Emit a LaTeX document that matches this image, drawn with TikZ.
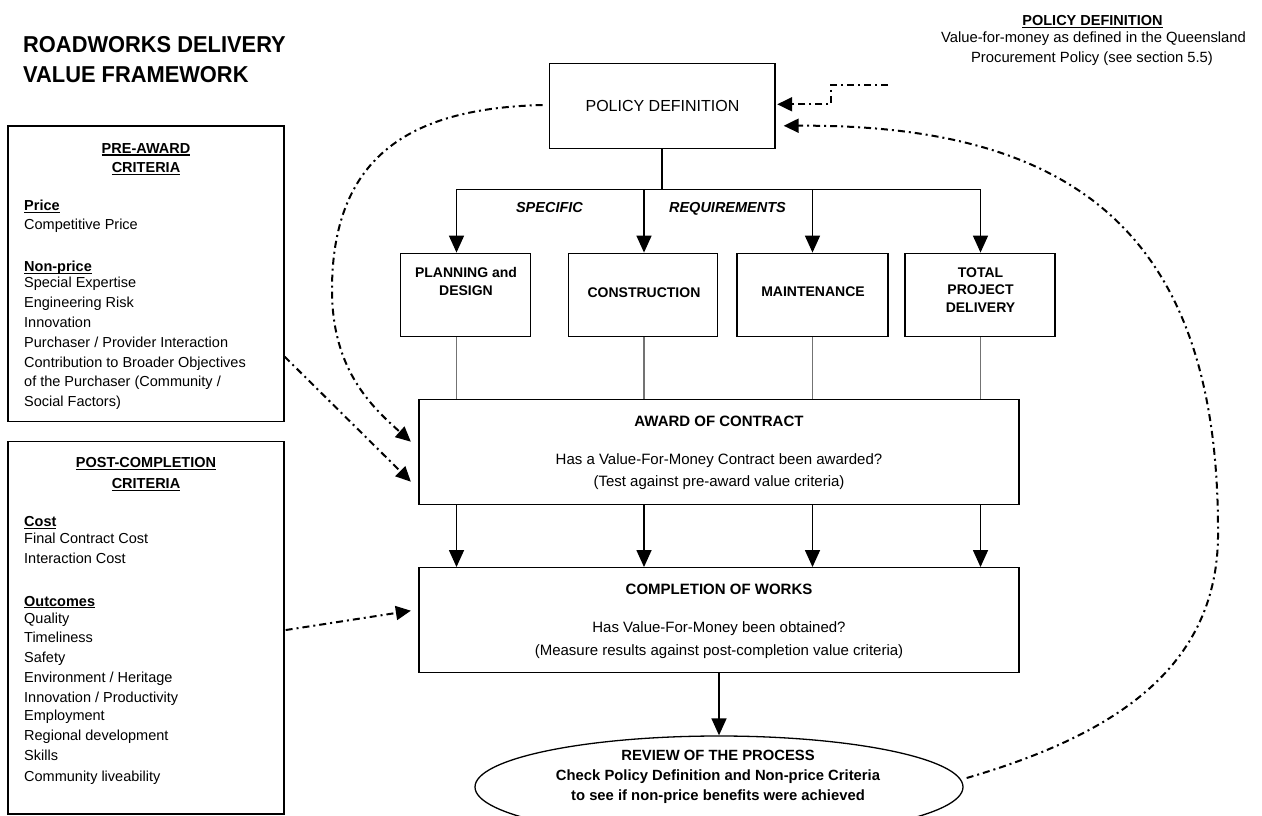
\documentclass[tikz,border=0pt]{standalone}
\usepackage{fontspec}
\setmainfont{Liberation Sans}
\newfontfamily\titlefont[FakeStretch=0.95]{Liberation Sans}
\usetikzlibrary{arrows.meta,shapes.geometric,calc}

% underline drawn just below the baseline, crossing descenders
\newcommand{\ulbox}[1]{\setbox0=\hbox{#1}\rlap{\rule[-2.4pt]{\wd0}{1.2pt}}\box0}
\newcommand{\fs}[1]{\fontsize{#1}{#1}\selectfont}

\begin{document}
\begin{tikzpicture}[x=1pt,y=-1pt,
  txt/.style={inner sep=0pt, anchor=base},
  ltxt/.style={inner sep=0pt, anchor=base west},
  sidetext/.style={ltxt, font=\fs{14.5}},
  sidehead/.style={txt, font=\fs{14.5}\bfseries},
  sidesub/.style={ltxt, font=\fs{14.5}\bfseries},
  boxlabel/.style={txt, font=\fs{14}\bfseries},
  bodyhead/.style={txt, font=\fs{15}\bfseries},
  bodytext/.style={txt, font=\fs{15}},
  reviewtext/.style={txt, font=\fs{14.8}\bfseries},
  reqtext/.style={txt, font=\fs{14.5}\bfseries\itshape},
  boxline/.style={draw=black, line width=1.3pt},
  framebox/.style={boxline, rectangle, inner sep=0pt},
  stem/.style={line width=1.5pt},
  solidarrow/.style={line width=1.5pt, -{Triangle[length=17pt,width=15pt]}},
  link/.style={draw=black!55, line width=1.3pt},
  dashlink/.style={line width=2pt, dash pattern=on 7pt off 4pt on 2pt off 4pt,
                   -{Triangle[length=15pt,width=14pt]}},
]
\useasboundingbox (0,0) rectangle (1262,816);
\fill[white] (0,0) rectangle (1262,816);

% ---------- title ----------
\node[ltxt, font=\titlefont\fs{23}\bfseries] (title1) at (23,52.7) {ROADWORKS DELIVERY};
\node[ltxt, font=\titlefont\fs{23}\bfseries] (title2) at (23,82.3) {VALUE FRAMEWORK};

% ---------- policy note, top right ----------
\node[sidehead] (notehead) at (1092.5,25.8) {\ulbox{POLICY DEFINITION}};
\node[txt, font=\fs{14.8}] (note1) at (1093.5,42.3) {Value-for-money as defined in the Queensland};
\node[txt, font=\fs{14.8}] (note2) at (1092,62.3) {Procurement Policy (see section 5.5)};

% ---------- pre-award criteria ----------
\node[framebox, minimum width=276pt, minimum height=295.7pt] (pre) at (146,273.85) {};
\node[sidehead] (preh1) at (146,153.3) {\ulbox{PRE-AWARD}};
\node[sidehead] (preh2) at (146,172.7) {\ulbox{CRITERIA}};
\node[sidesub]  (pr1)  at (24,210.7) {\ulbox{Price}};
\node[sidetext] (pr2)  at (24,229.3) {Competitive Price};
\node[sidesub]  (pr3)  at (24,271.7) {\ulbox{Non-price}};
\node[sidetext] (pr4)  at (24,287.7) {Special Expertise};
\node[sidetext] (pr5)  at (24,307.5) {Engineering Risk};
\node[sidetext] (pr6)  at (24,327)   {Innovation};
\node[sidetext] (pr7)  at (24,347.3) {Purchaser / Provider Interaction};
\node[sidetext] (pr8)  at (24,367.5) {Contribution to Broader Objectives};
\node[sidetext] (pr9)  at (24,386.8) {of the Purchaser (Community /};
\node[sidetext] (pr10) at (24,406.3) {Social Factors)};

% ---------- post-completion criteria ----------
\node[framebox, minimum width=276pt, minimum height=372.3pt] (post) at (146,627.85) {};
\node[sidehead] (posth1) at (146,467.7) {\ulbox{POST-COMPLETION}};
\node[sidehead] (posth2) at (146,488.3) {\ulbox{CRITERIA}};
\node[sidesub]  (po1)  at (24,526.7) {\ulbox{Cost}};
\node[sidetext] (po2)  at (24,543.3) {Final Contract Cost};
\node[sidetext] (po3)  at (24,563.3) {Interaction Cost};
\node[sidesub]  (po4)  at (24,606)   {\ulbox{Outcomes}};
\node[sidetext] (po5)  at (24,623.3) {Quality};
\node[sidetext] (po6)  at (24,642.7) {Timeliness};
\node[sidetext] (po7)  at (24,662.3) {Safety};
\node[sidetext] (po8)  at (24,682.3) {Environment / Heritage};
\node[sidetext] (po9)  at (24,702.3) {Innovation / Productivity};
\node[sidetext] (po10) at (24,720.7) {Employment};
\node[sidetext] (po11) at (24,740)   {Regional development};
\node[sidetext] (po12) at (24,760)   {Skills};
\node[sidetext] (po13) at (24,781.7) {Community liveability};

% ---------- process boxes ----------
\node[framebox, minimum width=225.7pt, minimum height=85pt] (pol) at (662.2,105.8) {};
\node[txt, font=\fs{16}] (poltext) at (662.5,111.7) {POLICY DEFINITION};

\node[framebox, minimum width=130pt, minimum height=83.5pt] (plan) at (465.7,295) {};
\node[framebox, minimum width=149pt, minimum height=83.5pt] (cons) at (643,295) {};
\node[framebox, minimum width=151pt, minimum height=83.5pt] (mnt)  at (812.5,295) {};
\node[framebox, minimum width=150pt, minimum height=83.5pt] (tpd)  at (980,295) {};
\node[boxlabel] (plan1) at (466,277.7) {PLANNING and};
\node[boxlabel] (plan2) at (466,295)   {DESIGN};
\node[boxlabel] (cons1) at (644,297)   {CONSTRUCTION};
\node[boxlabel] (mnt1)  at (813,296)   {MAINTENANCE};
\node[boxlabel] (tpd1)  at (980.5,277.3) {TOTAL};
\node[boxlabel] (tpd2)  at (980.5,294.7) {PROJECT};
\node[boxlabel] (tpd3)  at (980.5,312.3) {DELIVERY};

\node[reqtext] (req1) at (549.5,212.7) {SPECIFIC};
\node[reqtext] (req2) at (727.5,212.7) {REQUIREMENTS};

\node[framebox, minimum width=600pt, minimum height=105pt] (award) at (719,452) {};
\node[bodyhead] (aw1) at (719,426)   {AWARD OF CONTRACT};
\node[bodytext] (aw2) at (719,464.3) {Has a Value-For-Money Contract been awarded?};
\node[bodytext] (aw3) at (719,486)   {(Test against pre-award value criteria)};

\node[framebox, minimum width=600pt, minimum height=105pt] (comp) at (719,620.2) {};
\node[bodyhead] (cw1) at (719,594)   {COMPLETION OF WORKS};
\node[bodytext] (cw2) at (719,632.7) {Has Value-For-Money been obtained?};
\node[bodytext] (cw3) at (719,655)   {(Measure results against post-completion value criteria)};

\node[boxline, ellipse, inner sep=0pt, minimum width=488pt, minimum height=102pt] (review) at (719,787) {};
\node[reviewtext] (rv1) at (718,760) {REVIEW OF THE PROCESS};
\node[reviewtext] (rv2) at (718,780) {Check Policy Definition and Non-price Criteria};
\node[reviewtext] (rv3) at (718,800) {to see if non-price benefits were achieved};

% ---------- solid connectors ----------
\coordinate (split) at (662.2,189.3);
\coordinate (colA) at (456.5,189.3);
\coordinate (colB) at (644,189.3);
\coordinate (colC) at (812.5,189.3);
\coordinate (colD) at (980.5,189.3);
\draw[stem] (pol.south) -- (split);
\draw[line width=1.5pt, {Triangle[length=17pt,width=15pt]}-{Triangle[length=17pt,width=15pt]}]
  (colA |- plan.north) -- (colA) -- (colD) -- (colD |- tpd.north);
\draw[solidarrow] (colB) -- (colB |- cons.north);
\draw[solidarrow] (colC) -- (colC |- mnt.north);
\foreach \c/\b in {colA/plan, colB/cons, colC/mnt, colD/tpd} {
  \draw[link] (\c |- \b.south) -- (\c |- award.north);
  \draw[solidarrow] (\c |- award.south) -- (\c |- comp.north);
}
\draw[solidarrow] (comp.south) -- (review.north);

% ---------- dash-dot feedback links ----------
\coordinate (qld) at (888,85);
\coordinate (qldbend) at (831,85);
\draw[dashlink] (qld) -- (qldbend) -- (qldbend |- 0,104.3) -- ($(pol.east)+(1.5,-1.5)$);

\coordinate (leftturn) at (332,290);
\draw[dashlink] ($(pol.west)+(-6,-0.8)$) .. controls (425,108) and (332,145) .. (leftturn)
  .. controls (332,370) and (372,407) .. ($(award.west)+(-7.5,-10.3)$);

\draw[dashlink] ($(pre.east)+(0,82.8)$) -- ($(award.west)+(-7.5,29.7)$);
\draw[dashlink] ($(post.east)+(1,2.2)$) -- ($(comp.west)+(-7.5,-9.5)$);

\coordinate (rightturn) at (1218,530);
\draw[dashlink] ($(review.east)+(3,-9)$) .. controls (1110,736) and (1220,670) .. (rightturn)
  .. controls (1218,230) and (1070,124) .. ($(pol.east)+(8,20)$);
\end{tikzpicture}
\end{document}
